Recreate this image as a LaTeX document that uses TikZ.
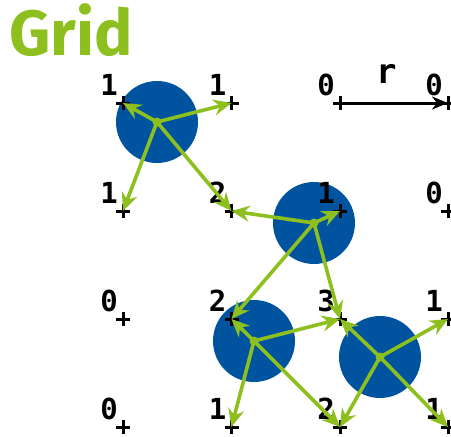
\documentclass[tikz,border=0pt]{standalone}
\usepackage{fontspec}
\setmainfont{Fira Sans}
\newfontfamily\numfont{DejaVu Sans Mono}
\usetikzlibrary{arrows.meta}
\definecolor{gridgreen}{RGB}{141,192,31}
\definecolor{cellblue}{RGB}{0,84,159}
\tikzset{
  particle/.style={circle, fill=cellblue, minimum size=82pt, inner sep=0pt},
  cdot/.style={circle, fill=gridgreen, minimum size=9pt, inner sep=0pt},
  crossmark/.style={line width=3pt, black},
  num/.style={font=\numfont\bfseries\fontsize{29}{29}\selectfont, inner sep=0pt},
  vec/.style={gridgreen, line width=3.6pt, -{Stealth[length=18pt,width=16pt,inset=6pt]}},
}
\newcommand{\crossat}[1]{\draw[crossmark] ([xshift=-7pt]#1) -- ([xshift=7pt]#1) ([yshift=-7pt]#1) -- ([yshift=7pt]#1);}
\begin{document}
\begin{tikzpicture}[x=1pt,y=-1pt]
\useasboundingbox (0,0) rectangle (451,437);
% title
\node[anchor=base west, inner sep=0pt, text=gridgreen, font=\bfseries\fontsize{64}{64}\selectfont] (title) at (9,55) {Grid};
% grid coordinates
\foreach \i/\xx in {0/123,1/231.5,2/340,3/448}{
  \foreach \j/\yy in {0/103,1/211,2/319,3/427}{
    \coordinate (g\i\j) at (\xx,\yy);
  }
}
% particles
\node[particle] (p1) at (157,122) {};
\node[particle] (p2) at (314,223) {};
\node[particle] (p3) at (254,341) {};
\node[particle] (p4) at (380,357) {};
% crosses
\foreach \i in {0,1,2,3}{\foreach \j in {0,1,2,3}{\crossat{g\i\j}}}
% labels
\foreach \i/\j/\v in {0/0/1,1/0/1,2/0/0,3/0/0,
                      0/1/1,1/1/2,2/1/1,3/1/0,
                      0/2/0,1/2/2,2/2/3,3/2/1,
                      0/3/0,1/3/1,2/3/2,3/3/1}{
  \node[num] (n\i\j) at ([shift={(-14,-18)}]g\i\j) {\v};
}
% r arrow
\draw[black, line width=3pt, -{Stealth[length=16pt,width=13pt,inset=5pt]}] (g20) -- (g30);
\node[font=\numfont\bfseries\fontsize{34}{34}\selectfont, inner sep=0pt] (rlabel) at (387,74) {r};
% vectors
\foreach \p/\a/\b/\c/\d in {p1/g00/g10/g01/g11, p2/g11/g21/g12/g22, p3/g12/g22/g13/g23, p4/g22/g32/g23/g33}{
  \foreach \t in {\a,\b,\c,\d}{\draw[vec] (\p.center) -- (\t);}
}
\foreach \p in {p1,p2,p3,p4}{\node[cdot] at (\p.center) {};}
\end{tikzpicture}
\end{document}
